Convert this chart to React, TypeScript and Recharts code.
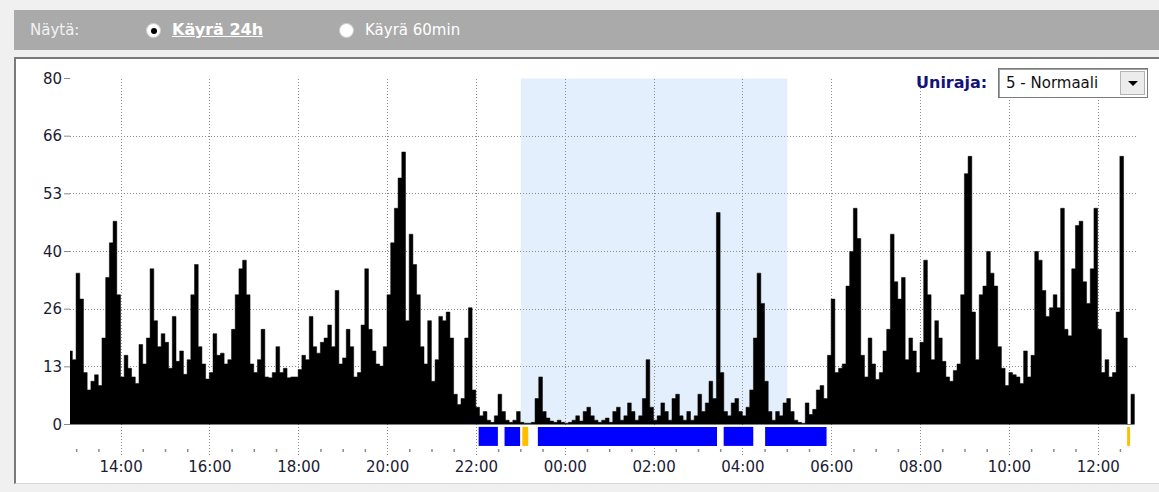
import React from "react";
import { ComposedChart, Area, XAxis, YAxis, CartesianGrid, ReferenceArea } from "recharts";

// aktiivisuus 5 min jaksoissa, alkaen klo 12:49
const BIN_START = 12.82;
const BIN_HOURS = 5 / 60;

const activity = [
  17, 15, 35, 29, 12, 8, 10, 11.5, 9, 20, 34, 42, 47, 30, 11, 16, 13, 11, 9.5, 18.5,
  14, 20, 36, 24, 18, 21, 19, 13, 25, 14.6, 17, 11.6, 15, 30, 37, 18, 14, 10.5, 12, 21,
  16, 16.5, 14, 15, 22, 30, 36, 38, 30, 14, 12, 15, 22, 11, 10.8, 12, 18, 12, 13, 10.8,
  11, 11, 12.7, 16, 15, 25, 18, 16.5, 19, 20, 23, 18, 31, 14, 15.4, 22, 18, 11, 12, 23,
  36, 22, 17, 14, 13.5, 18, 30, 42, 50, 57, 63, 24, 44, 37, 30, 18, 14, 24, 10, 15,
  25, 24, 26, 20, 7, 4.6, 6, 20, 27, 8, 4, 2, 3, 1, 0.5, 2, 7, 3, 1, 0.5,
  1, 3, 0.5, 0.3, 0.3, 0.5, 6, 11, 3, 1.5, 0.8, 0.5, 1, 0.5, 0.3, 0.5, 1, 2, 0.8, 3,
  4, 2, 1, 0.5, 1, 1.5, 0.5, 3, 4, 1, 2, 5, 3, 1, 2, 6, 15, 4, 1, 2,
  5, 3, 1, 6, 7, 2, 1, 3, 1, 2, 7, 3, 5, 10, 6, 49, 12, 3, 2, 5,
  6, 3, 2, 4, 8, 20, 35, 28, 10, 3, 1, 3, 2, 5, 6, 3, 1, 0.5, 0.3, 5,
  2.3, 3.5, 8, 9, 6, 16, 29, 12, 13, 14, 32, 40, 50, 43, 16, 11, 20, 14, 10.4, 12,
  17, 22, 44, 33, 29, 34, 15, 20, 17, 12, 19, 38, 30, 15, 24, 20, 14.6, 11, 10, 12.5,
  14, 30, 58, 62, 26, 15, 30, 32, 40, 35, 32, 18, 13, 9, 12, 11.5, 11, 9.5, 17, 11,
  16, 40, 38, 31, 25, 27, 30, 27, 50, 22, 20.5, 36, 46, 47, 33, 28, 36, 50, 22, 12,
  15, 11, 12, 26, 62, 20, 0, 7,
];

const yTicks = [0, 13.333, 26.667, 40, 53.333, 66.667, 80];
const yTickLabels = ["0", "13", "26", "40", "53", "66", "80"];

const xMajorTicks = [14, 16, 18, 20, 22, 24, 26, 28, 30, 32, 34, 36];
const xTickLabels = ["14:00", "16:00", "18:00", "20:00", "22:00", "00:00", "02:00", "04:00", "06:00", "08:00", "10:00", "12:00"];

// yöjakso (vaaleansininen tausta)
const nightWindow = ["23:00", "05:00"];

// unijaksot palkkeina x-akselin alla
const sleepBlocks = [
  { from: "22:03", to: "22:29", kind: "sleep" },
  { from: "22:38", to: "22:59", kind: "sleep" },
  { from: "23:02", to: "23:10", kind: "wake" },
  { from: "23:23", to: "03:25", kind: "sleep" },
  { from: "03:34", to: "04:14", kind: "sleep" },
  { from: "04:30", to: "05:53", kind: "sleep" },
  { from: "12:39", to: "12:43", kind: "wake" },
];

const toHours = (s: string) => {
  const [h, m] = s.split(":").map(Number);
  const v = h + m / 60;
  return v < BIN_START ? v + 24 : v;
};

const series = activity.map((v, i) => ({ t: BIN_START + i * BIN_HOURS, v }));
series.push({ t: BIN_START + activity.length * BIN_HOURS, v: activity[activity.length - 1] });

const minorTicks: number[] = [];
for (let h = 13; h <= 36.5; h += 0.5) minorTicks.push(h);

const FONT = '"DejaVu Sans", Verdana, sans-serif';
const TEXT = "#1b1b33";

const HourTick = (props: any) => {
  const { x, y, payload } = props;
  const idx = xMajorTicks.indexOf(payload.value);
  if (idx >= 0) {
    return (
      <text x={x} y={y + 17} textAnchor="middle" fill={TEXT} fontSize={15} fontFamily={FONT}>
        {xTickLabels[idx]}
      </text>
    );
  }
  return <line x1={x} x2={x} y1={y - 6} y2={y - 3} stroke="#8a8a8a" strokeWidth={1.5} />;
};

const Radio = ({ left, checked }: { left: number; checked?: boolean }) => (
  <div
    style={{
      position: "absolute", left, top: 14, width: 13, height: 13, borderRadius: "50%",
      background: "#fff", boxShadow: "0 0 0 1px #d0d0d0",
    }}
  >
    {checked && (
      <div style={{ position: "absolute", left: 3.5, top: 3.5, width: 6, height: 6, borderRadius: "50%", background: "#000" }} />
    )}
  </div>
);

export default function App() {
  return (
    <div
      style={{
        position: "fixed", left: 0, top: 0, width: 1159, height: 492, overflow: "hidden",
        background: "#f0f0f0", fontFamily: FONT,
      }}
    >
      {/* yläpalkki */}
      <div style={{ position: "absolute", left: 14, top: 10, width: 1160, height: 40, background: "#aaaaaa" }}>
        <span style={{ position: "absolute", left: 16, top: 11, fontSize: 15, color: "#f2f2f2" }}>Näytä:</span>
        <Radio left={133} checked />
        <span style={{ position: "absolute", left: 158, top: 10, fontSize: 16, fontWeight: "bold", color: "#fff", textDecoration: "underline" }}>
          Käyrä 24h
        </span>
        <Radio left={326} />
        <span style={{ position: "absolute", left: 351, top: 11, fontSize: 15, color: "#fff" }}>Käyrä 60min</span>
      </div>

      {/* kaaviopaneeli */}
      <div
        style={{
          position: "absolute", left: 14, top: 57, width: 1160, height: 427, boxSizing: "border-box",
          background: "#fff", borderTop: "2px solid #7a7a7a", borderLeft: "2px solid #7a7a7a",
          borderBottom: "1px solid #d6d6d6",
        }}
      />

      <div style={{ position: "absolute", left: 0, top: 0 }}>
        <ComposedChart width={1159} height={492} data={series} margin={{ top: 78.5, right: 23, bottom: 7, left: 1 }}>
          <ReferenceArea
            x1={toHours(nightWindow[0])}
            x2={toHours(nightWindow[1])}
            y1={0}
            y2={80}
            fill="#e3effc"
            fillOpacity={1}
            stroke="none"
            zIndex={-150}
          />
          <CartesianGrid
            horizontalValues={yTicks.slice(1, -1)}
            verticalValues={xMajorTicks}
            stroke="#8c8c8c"
            strokeDasharray="1 2"
            shapeRendering="crispEdges"
            zIndex={-100}
          />
          <XAxis
            dataKey="t"
            type="number"
            domain={[12.85, 36.85]}
            allowDataOverflow
            ticks={minorTicks}
            interval={0}
            tick={HourTick}
            tickLine={false}
            axisLine={false}
            tickSize={0}
            tickMargin={0}
            height={30}
          />
          <YAxis
            type="number"
            domain={[-7.05, 80]}
            ticks={yTicks}
            interval={0}
            width={69}
            axisLine={false}
            tickSize={6}
            tickMargin={2}
            tickLine={{ stroke: "#8a8a8a" }}
            tick={{ fill: TEXT, fontSize: 15, fontFamily: FONT }}
            tickFormatter={(v: number) => yTickLabels[yTicks.indexOf(v)] ?? ""}
          />
          <Area
            type="stepAfter"
            dataKey="v"
            baseValue={0}
            fill="#000"
            fillOpacity={1}
            stroke="#000"
            strokeWidth={0.5}
            dot={false}
            activeDot={false}
            isAnimationActive={false}
            zIndex={100}
          />
          {sleepBlocks.map((b, i) => (
            <ReferenceArea
              key={i}
              x1={toHours(b.from)}
              x2={toHours(b.to)}
              y1={-0.55}
              y2={-4.95}
              fill={b.kind === "sleep" ? "#0000ff" : "#ffbf00"}
              fillOpacity={1}
              stroke="none"
              zIndex={200}
            />
          ))}
        </ComposedChart>
      </div>

      {/* uniraja-valinta */}
      <span style={{ position: "absolute", left: 916, top: 73, fontSize: 16, fontWeight: "bold", color: "#13137a" }}>Uniraja:</span>
      <div
        style={{
          position: "absolute", left: 998, top: 68, width: 150, height: 30, boxSizing: "border-box",
          background: "#fff", border: "1px solid #7a7a7a", boxShadow: "inset 1px 1px 0 #a0a0a0",
        }}
      >
        <span style={{ position: "absolute", left: 7, top: 5, fontSize: 15, color: "#111" }}>5 - Normaali</span>
        <div
          style={{
            position: "absolute", right: 2, top: 2, width: 25, height: 24, boxSizing: "border-box",
            background: "#ececec", border: "1px solid #b4b4b4",
          }}
        >
          <div
            style={{
              position: "absolute", left: 7, top: 9, width: 0, height: 0,
              borderLeft: "5px solid transparent", borderRight: "5px solid transparent", borderTop: "5px solid #000",
            }}
          />
        </div>
      </div>
    </div>
  );
}
